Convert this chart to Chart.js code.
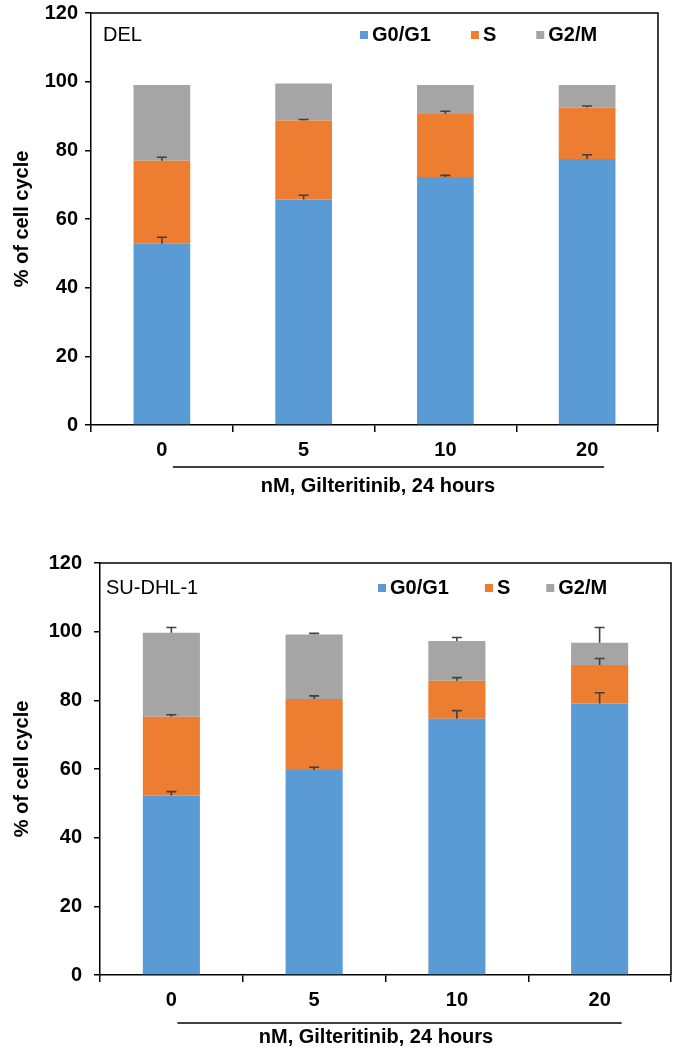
<!DOCTYPE html>
<html>
<head>
<meta charset="utf-8">
<script src="https://cdn.jsdelivr.net/npm/chart.js@4.4.1/dist/chart.umd.min.js"></script>
<style>
    body { margin: 0; background: #fff; }
    .wrap { position: absolute; left: 0; width: 677px; }
</style>
</head>
<body>
<div class="wrap" style="top:0;height:500px"><canvas id="del"></canvas></div>
<div class="wrap" style="top:520px;height:530px"><canvas id="su"></canvas></div>
<script>
const doses = ['0', '5', '10', '20'];
const phases = ['G0/G1', 'S', 'G2/M'];

// DEL
const delG0 = [52.8, 65.7, 72.2, 77.5];
const delS = [24.2, 23.0, 18.4, 15.0];
const delG2M = [22.0, 10.8, 8.4, 6.5];
const delG0Err = [1.9, 1.2, 0.5, 1.2];
const delSErr = [1.0, 0.3, 0.8, 0.4];
const delG2MErr = [0, 0, 0, 0];

// SU-DHL-1
const suG0 = [52.3, 59.7, 74.6, 79.1];
const suS = [22.9, 20.7, 11.1, 11.2];
const suG2M = [24.5, 18.8, 11.6, 6.5];
const suG0Err = [1.1, 0.8, 2.4, 3.1];
const suSErr = [0.6, 0.9, 0.9, 1.9];
const suG2MErr = [1.5, 0.3, 1.0, 4.4];

const yMin = 0, yMax = 120, yStep = 20;

const colors = {
    blue: '#5b9bd5',
    orange: '#ed7d31',
    grey: '#a5a5a5'
};

Chart.defaults.font.family = '"Liberation Sans", Arial, sans-serif';
Chart.defaults.color = '#000';

// error bars, frame, legend, label and the underlined axis caption
const extras = {
    id: 'extras',
    afterDatasetsDraw(chart, args, o) {
        const ctx = chart.ctx;
        const {left, right, top, bottom} = chart.chartArea;
        const y = chart.scales.y;
        const x = chart.scales.x;
        const unit = y.getPixelForValue(0) - y.getPixelForValue(1);

        ctx.save();
        ctx.strokeStyle = '#404040';
        ctx.lineWidth = 1.6;
        chart.data.datasets.forEach((ds, i) => {
            chart.getDatasetMeta(i).data.forEach((bar, j) => {
                const e = ds.errors[j];
                if (!e) return;
                const yt = bar.y - e * unit;
                ctx.beginPath();
                ctx.moveTo(bar.x, bar.y);
                ctx.lineTo(bar.x, yt);
                ctx.moveTo(bar.x - 5, yt);
                ctx.lineTo(bar.x + 5, yt);
                ctx.stroke();
            });
        });

        // top and right edges of the plot box
        ctx.strokeStyle = '#000';
        ctx.lineWidth = 1.5;
        ctx.beginPath();
        ctx.moveTo(left, top);
        ctx.lineTo(right, top);
        ctx.lineTo(right, bottom);
        ctx.stroke();

        // cell line label
        ctx.fillStyle = '#000';
        ctx.textBaseline = 'middle';
        ctx.textAlign = 'left';
        ctx.font = '20px "Liberation Sans", Arial, sans-serif';
        ctx.fillText(o.label, left + o.labelDx, top + o.labelDy);

        // legend
        ctx.font = 'bold 20px "Liberation Sans", Arial, sans-serif';
        let lx = o.legendX;
        chart.data.datasets.forEach(ds => {
            ctx.fillStyle = ds.backgroundColor;
            ctx.fillRect(lx, top + o.labelDy - 4, 8, 8);
            ctx.fillStyle = '#000';
            ctx.fillText(ds.label, lx + 12, top + o.labelDy);
            lx += 12 + ctx.measureText(ds.label).width + o.legendGap;
        });

        // underline and caption below the dose labels
        const x0 = x.getPixelForValue(0) + o.lineFrom;
        const x1 = x.getPixelForValue(doses.length - 1) + o.lineTo;
        ctx.beginPath();
        ctx.moveTo(x0, bottom + o.lineDy);
        ctx.lineTo(x1, bottom + o.lineDy);
        ctx.stroke();
        ctx.textAlign = 'center';
        ctx.fillText('nM, Gilteritinib, 24 hours', o.captionX, bottom + o.captionDy);
        ctx.restore();
    }
};

function makeChart(id, g0, s, g2m, g0Err, sErr, g2mErr, opts) {
    return new Chart(document.getElementById(id), {
        type: 'bar',
        data: {
            labels: doses,
            datasets: [
                {label: phases[0], data: g0, errors: g0Err, backgroundColor: colors.blue},
                {label: phases[1], data: s, errors: sErr, backgroundColor: colors.orange},
                {label: phases[2], data: g2m, errors: g2mErr, backgroundColor: colors.grey}
            ]
        },
        plugins: [extras],
        options: {
            responsive: true,
            maintainAspectRatio: false,
            animation: false,
            layout: {padding: {top: opts.padTop, right: opts.padRight, left: 0, bottom: 0}},
            datasets: {bar: {barPercentage: 0.4, categoryPercentage: 1, borderWidth: 0}},
            plugins: {
                legend: {display: false},
                tooltip: {enabled: false},
                extras: opts.extras
            },
            scales: {
                x: {
                    stacked: true,
                    afterFit: sc => { sc.height = 75; },
                    grid: {offset: true, drawOnChartArea: false, tickLength: 7, color: '#000', lineWidth: 1.5},
                    border: {color: '#000', width: 1.5},
                    ticks: {font: {size: 20, weight: 'bold'}, padding: 6}
                },
                y: {
                    stacked: true,
                    min: yMin,
                    max: yMax,
                    afterFit: sc => {
                        sc.width = opts.yWidth;
                        sc.paddingTop = 0;
                        sc.paddingBottom = 0;
                    },
                    grid: {drawOnChartArea: false, tickLength: 6, color: '#000', lineWidth: 1.5},
                    border: {color: '#000', width: 1.5},
                    ticks: {stepSize: yStep, font: {size: 20, weight: 'bold'}, padding: opts.tickPad},
                    title: {
                        display: true,
                        text: '% of cell cycle',
                        font: {size: 20, weight: 'bold'},
                        padding: {top: 10, bottom: 0}
                    }
                }
            }
        }
    });
}

makeChart('del', delG0, delS, delG2M, delG0Err, delSErr, delG2MErr, {
    padTop: 13, padRight: 19, yWidth: 91, tickPad: 7,
    extras: {label: 'DEL', labelDx: 12, labelDy: 22, legendX: 360, legendGap: 40,
        lineFrom: 11, lineTo: 17, lineDy: 42, captionX: 378, captionDy: 61}
});

makeChart('su', suG0, suS, suG2M, suG0Err, suSErr, suG2MErr, {
    padTop: 43, padRight: 6, yWidth: 100, tickPad: 12,
    extras: {label: 'SU-DHL-1', labelDx: 6, labelDy: 25, legendX: 378, legendGap: 36,
        lineFrom: 6, lineTo: 22, lineDy: 48, captionX: 376, captionDy: 62}
});
</script>
</body>
</html>
